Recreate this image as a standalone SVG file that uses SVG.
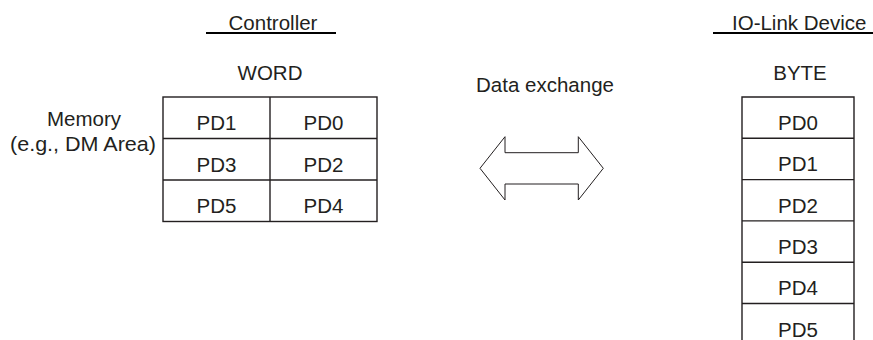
<svg xmlns="http://www.w3.org/2000/svg" width="873" height="340" viewBox="0 0 873 340">
<style>
text{font-family:"Liberation Sans",Arial,sans-serif;font-size:20.5px;fill:#231f20}
.c{text-anchor:middle}
.cell{fill:none;stroke:#231f20;stroke-width:1.4}
.ul{stroke:#000;stroke-width:2}
</style>
<rect width="873" height="340" fill="#fff"/>
<g id="controller-title">
<text x="273" y="30" class="c">Controller</text>
<line class="ul" x1="206" y1="33" x2="336" y2="33"/>
</g>
<g id="device-title">
<text x="732" y="29.5">IO-Link Device</text>
<line class="ul" x1="713" y1="33" x2="873" y2="33"/>
</g>
<g id="memory-label">
<text x="84" y="126" class="c">Memory</text>
<text x="10" y="151" textLength="146" lengthAdjust="spacingAndGlyphs">(e.g., DM Area)</text>
</g>
<g id="word-table">
<text x="270" y="80" class="c">WORD</text>
<rect class="cell" x="163" y="97" width="214" height="124.5"/>
<line class="cell" x1="270" y1="97" x2="270" y2="221.5"/>
<line class="cell" x1="163" y1="138.5" x2="377" y2="138.5"/>
<line class="cell" x1="163" y1="180" x2="377" y2="180"/>
<text x="216.5" y="130" class="c">PD1</text>
<text x="323.5" y="130" class="c">PD0</text>
<text x="216.5" y="171.5" class="c">PD3</text>
<text x="323.5" y="171.5" class="c">PD2</text>
<text x="216.5" y="213" class="c">PD5</text>
<text x="323.5" y="213" class="c">PD4</text>
</g>
<g id="byte-table">
<text x="800" y="80" class="c">BYTE</text>
<polyline class="cell" points="742,341 742,97 854,97 854,341"/>
<line class="cell" x1="742" y1="138.3" x2="854" y2="138.3"/>
<line class="cell" x1="742" y1="179.6" x2="854" y2="179.6"/>
<line class="cell" x1="742" y1="220.9" x2="854" y2="220.9"/>
<line class="cell" x1="742" y1="262.2" x2="854" y2="262.2"/>
<line class="cell" x1="742" y1="303.5" x2="854" y2="303.5"/>
<text x="798" y="130" class="c">PD0</text>
<text x="798" y="171.3" class="c">PD1</text>
<text x="798" y="212.6" class="c">PD2</text>
<text x="798" y="253.9" class="c">PD3</text>
<text x="798" y="295.2" class="c">PD4</text>
<text x="798" y="336.5" class="c">PD5</text>
</g>
<g id="connectors">
<text x="545" y="92" class="c">Data exchange</text>
<polygon points="480,168.3 505,136.7 505,152.7 578.3,152.7 578.3,136.7 603.3,168.3 578.3,200 578.3,184 505,184 505,200" fill="#fff" stroke="#231f20" stroke-width="1"/>
</g>
</svg>
